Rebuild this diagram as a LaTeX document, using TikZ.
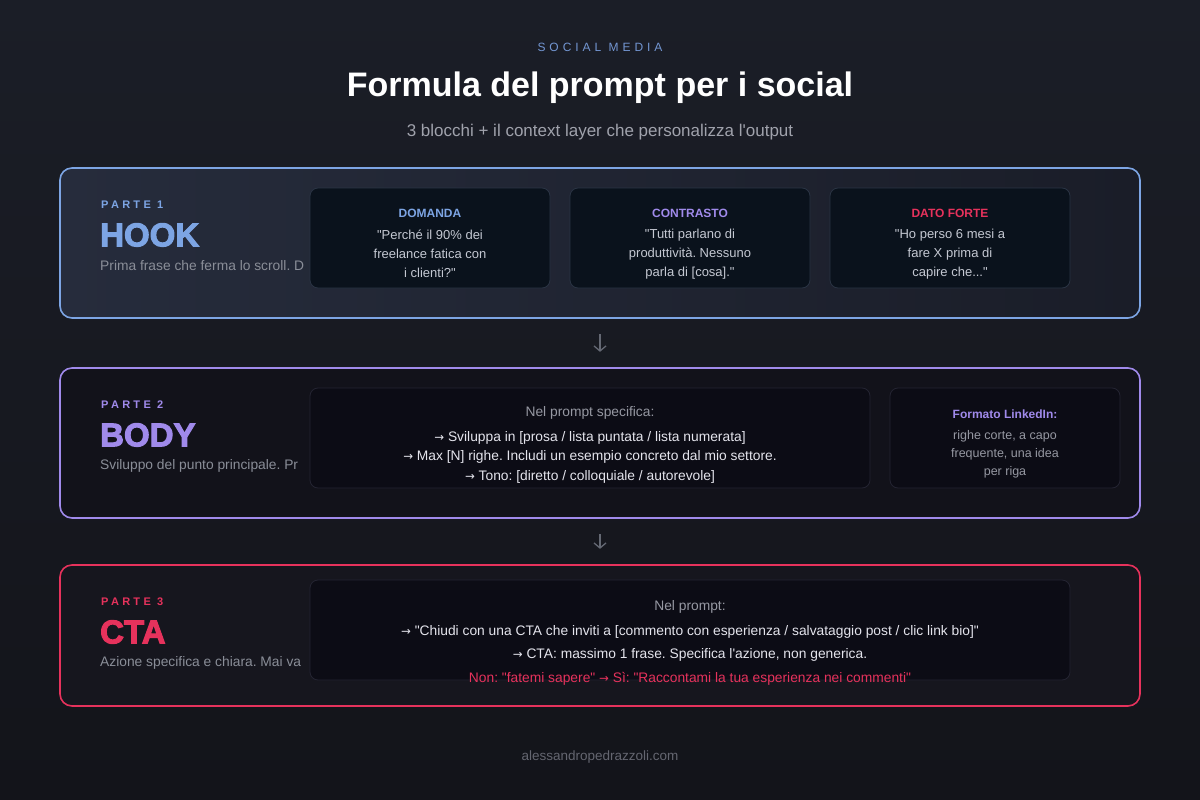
\documentclass[tikz,border=0pt]{standalone}
\usepackage{fontspec}
\setmainfont{Liberation Sans}[Ligatures=TeXOff]
\newfontfamily\arrfont{DejaVu Sans}
\newcommand{\arr}{{\arrfont\addfontfeatures{Scale=0.85}→}}
\usetikzlibrary{arrows.meta}
\definecolor{bg}{RGB}{19,20,26}
\definecolor{bgtl}{RGB}{27,30,39}
\definecolor{hookc}{RGB}{125,165,228}
\definecolor{bodyc}{RGB}{160,138,235}
\definecolor{ctac}{RGB}{230,50,92}
\definecolor{hookfillL}{RGB}{38,44,60}
\definecolor{hookfillR}{RGB}{26,29,40}
\definecolor{bodyfill}{RGB}{18,18,26}
\definecolor{ctafill}{RGB}{22,22,30}
\definecolor{cardfill}{RGB}{10,18,28}
\definecolor{cardline}{RGB}{42,52,68}
\definecolor{card2fill}{RGB}{12,12,21}
\definecolor{card2line}{RGB}{36,36,50}
\definecolor{txtgray}{RGB}{150,152,162}
\definecolor{txtlight}{RGB}{196,200,210}
\definecolor{txtwhite}{RGB}{228,228,236}
\definecolor{descgray}{RGB}{138,142,152}
\definecolor{arrowc}{RGB}{100,104,115}
\definecolor{subc}{RGB}{160,162,172}
\definecolor{footc}{RGB}{100,102,112}
\definecolor{kickc}{RGB}{115,150,210}
\tikzset{
  outerbox/.style={rounded corners=12pt, line width=1.6pt},
  cardbox/.style={rounded corners=8pt, line width=0.8pt, draw=cardline, fill=cardfill},
  card2box/.style={rounded corners=8pt, line width=0.8pt, draw=card2line, fill=card2fill},
  parte/.style={anchor=west, inner sep=0pt, font=\fontsize{11}{12}\selectfont\bfseries\addfontfeatures{LetterSpace=30}},
  big/.style={anchor=west, inner sep=0pt, font=\fontsize{33}{36}\selectfont\bfseries\addfontfeatures{FakeBold=3}},
  desc/.style={anchor=west, inner sep=0pt, text=descgray, font=\fontsize{13.8}{16}\selectfont},
  ctitle/.style={font=\fontsize{12}{14}\selectfont\bfseries},
  ctext/.style={text=txtlight, align=center, font=\fontsize{13}{19}\selectfont},
  ptext/.style={text=txtwhite, font=\fontsize{13.8}{15}\selectfont},
  flow/.style={draw=arrowc, line width=1.3pt, -{Straight Barb[length=5pt,width=12pt]}, shorten >=16pt, shorten <=16pt},
}
\begin{document}
\frenchspacing
\begin{tikzpicture}[x=1pt,y=-1pt]
\useasboundingbox (0,0) rectangle (1200,800);
\shade[top color=bgtl, bottom color=bg] (0,0) rectangle (1200,800);

% header
\node[text=kickc, font=\fontsize{12}{14}\selectfont\addfontfeatures{LetterSpace=33}] (kick) at (600,47) {SOCIAL MEDIA};
\node[text=white, font=\fontsize{34}{38}\selectfont\bfseries] (title) at (600,88) {Formula del prompt per i social};
\node[text=subc, font=\fontsize{17}{19}\selectfont] (sub) at (600,132) {3 blocchi + il context layer che personalizza l'output};

% HOOK box
\draw[outerbox, draw=hookc, left color=hookfillL, right color=hookfillR] (60,168) rectangle (1140,318);
\node[inner sep=0, minimum width=1080pt, minimum height=150pt] (hook) at (600,243) {};
\node[parte, text=hookc] (p1) at (101,205) {PARTE 1};
\node[big, text=hookc] (hooklbl) at (100,235) {HOOK};
\node[desc] (hookdesc) at (100,266) {Prima frase che ferma lo scroll. D};
\draw[cardbox] (310,188) rectangle (550,288);
\draw[cardbox] (570,188) rectangle (810,288);
\draw[cardbox] (830,188) rectangle (1070,288);
\node[ctitle, text=hookc] (c1t) at (430,213) {DOMANDA};
\node[ctext, anchor=north] (c1) at (430,226) {"Perché il 90\% dei\\freelance fatica con\\i clienti?"};
\node[ctitle, text=bodyc] (c2t) at (690,213) {CONTRASTO};
\node[ctext, anchor=north] (c2) at (690,226) {"Tutti parlano di\\produttività. Nessuno\\parla di [cosa]."};
\node[ctitle, text=ctac] (c3t) at (950,213) {DATO FORTE};
\node[ctext, anchor=north] (c3) at (950,226) {"Ho perso 6 mesi a\\fare X prima di\\capire che..."};

% BODY box
\draw[outerbox, draw=bodyc, fill=bodyfill] (60,368) rectangle (1140,518);
\node[inner sep=0, minimum width=1080pt, minimum height=150pt] (body) at (600,443) {};
\node[parte, text=bodyc] (p2) at (101,405) {PARTE 2};
\node[big, text=bodyc] (bodylbl) at (100,435) {BODY};
\node[desc] (bodydesc) at (100,466) {Sviluppo del punto principale. Pr};
\draw[card2box] (310,388) rectangle (870,488);
\draw[card2box] (890,388) rectangle (1120,488);
\node[text=txtgray, font=\fontsize{13.8}{15}\selectfont] (b0) at (590,413) {Nel prompt specifica:};
\node[ptext] (b1) at (590,438) {\arr{} Sviluppa in [prosa / lista puntata / lista numerata]};
\node[ptext] (b2) at (590,457) {\arr{} Max [N] righe. Includi un esempio concreto dal mio settore.};
\node[ptext] (b3) at (590,477) {\arr{} Tono: [diretto / colloquiale / autorevole]};
\node[ctitle, text=bodyc] (lt) at (1005,414) {Formato LinkedIn:};
\node[text=txtgray, align=center, font=\fontsize{12.5}{18}\selectfont, anchor=north] (lx) at (1005,427) {righe corte, a capo\\frequente, una idea\\per riga};

% CTA box
\draw[outerbox, draw=ctac, fill=ctafill] (60,565) rectangle (1140,706);
\node[inner sep=0, minimum width=1080pt, minimum height=141pt] (cta) at (600,635.5) {};
\node[parte, text=ctac] (p3) at (101,602) {PARTE 3};
\node[big, text=ctac] (ctalbl) at (100,632) {CTA};
\node[desc] (ctadesc) at (100,663) {Azione specifica e chiara. Mai va};
\draw[card2box] (310,580) rectangle (1070,680);
\node[text=txtgray, font=\fontsize{13.8}{15}\selectfont] (t0) at (690,607) {Nel prompt:};
\node[ptext] (t1) at (690,632) {\arr{} "Chiudi con una CTA che inviti a [commento con esperienza / salvataggio post / clic link bio]"};
\node[ptext] (t2) at (690,655) {\arr{} CTA: massimo 1 frase. Specifica l'azione, non generica.};
\node[text=ctac, font=\fontsize{13.8}{15}\selectfont] (t3) at (690,679) {Non: "fatemi sapere" \arr{} Sì: "Raccontami la tua esperienza nei commenti"};

% flow arrows
\draw[flow] (hook.south) -- (body.north);
\draw[flow] (body.south) -- (cta.north);

% footer
\node[text=footc, font=\fontsize{13.5}{15}\selectfont] (foot) at (600,757) {alessandropedrazzoli.com};
\end{tikzpicture}
\end{document}
